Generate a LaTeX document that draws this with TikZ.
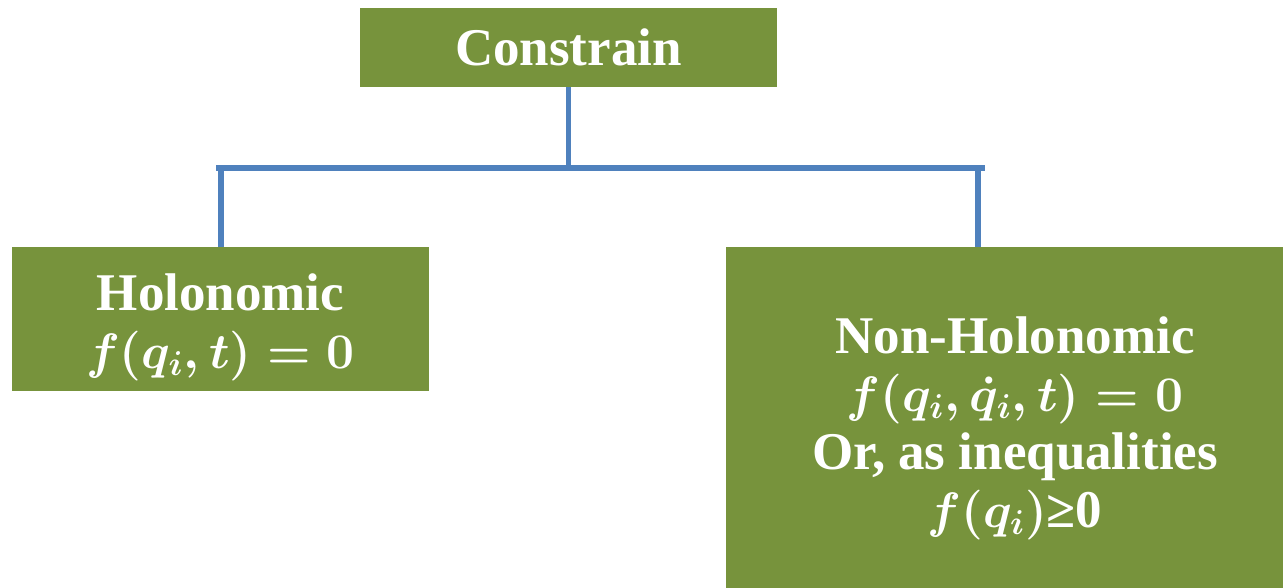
\documentclass[tikz,border=0pt]{standalone}
\usepackage{amsmath}
\usepackage{fontspec}
\setmainfont{Liberation Serif}
\definecolor{boxgreen}{HTML}{77933C}
\definecolor{linkblue}{HTML}{4F81BD}
\newcommand{\eqline}[1]{{\fontsize{25}{29}\selectfont #1}}
\tikzset{
  catbox/.style={fill=boxgreen, text=white, align=center, inner sep=0pt,
    font=\fontsize{26.5}{29}\selectfont\bfseries\boldmath},
  link/.style={draw=linkblue, line width=2.7pt}
}
\begin{document}
\begin{tikzpicture}[x=0.5pt,y=-0.5pt]
\useasboundingbox (0,0) rectangle (1283,588);
\clip (0,0) rectangle (1283,588);
% boxes
\node[catbox, minimum width=208.5pt, minimum height=39.5pt] (top) at (568.5,47.5) {Constrain};
\node[catbox, minimum width=208.5pt, minimum height=72pt] (holo) at (220.5,319) {};
\node[catbox] (holotext) at (220.5,327)
  {Holonomic\\ \eqline{$f(q_i,t)=0$}};
\node[catbox, minimum width=289pt, minimum height=178pt] (nonholo) at (1015,425) {};
\node[catbox] (nonholotext) at (1015,428)
  {Non-Holonomic\\ \eqline{$f(q_i,\dot{q}_i,t)=0$}\\ Or, as inequalities\\ \eqline{$f(q_i)$}≥0};
% connectors
\coordinate (hub) at (568.5,168);
\coordinate (hl) at (216,168);
\coordinate (hr) at (985,168);
\coordinate (dl) at (221,168);
\coordinate (dr) at (978,168);
\draw[link] (top.south) -- (hub);
\draw[link] (hl) -- (hr);
\draw[link] (dl) -- (dl |- holo.north);
\draw[link] (dr) -- (dr |- nonholo.north);
\end{tikzpicture}
\end{document}
